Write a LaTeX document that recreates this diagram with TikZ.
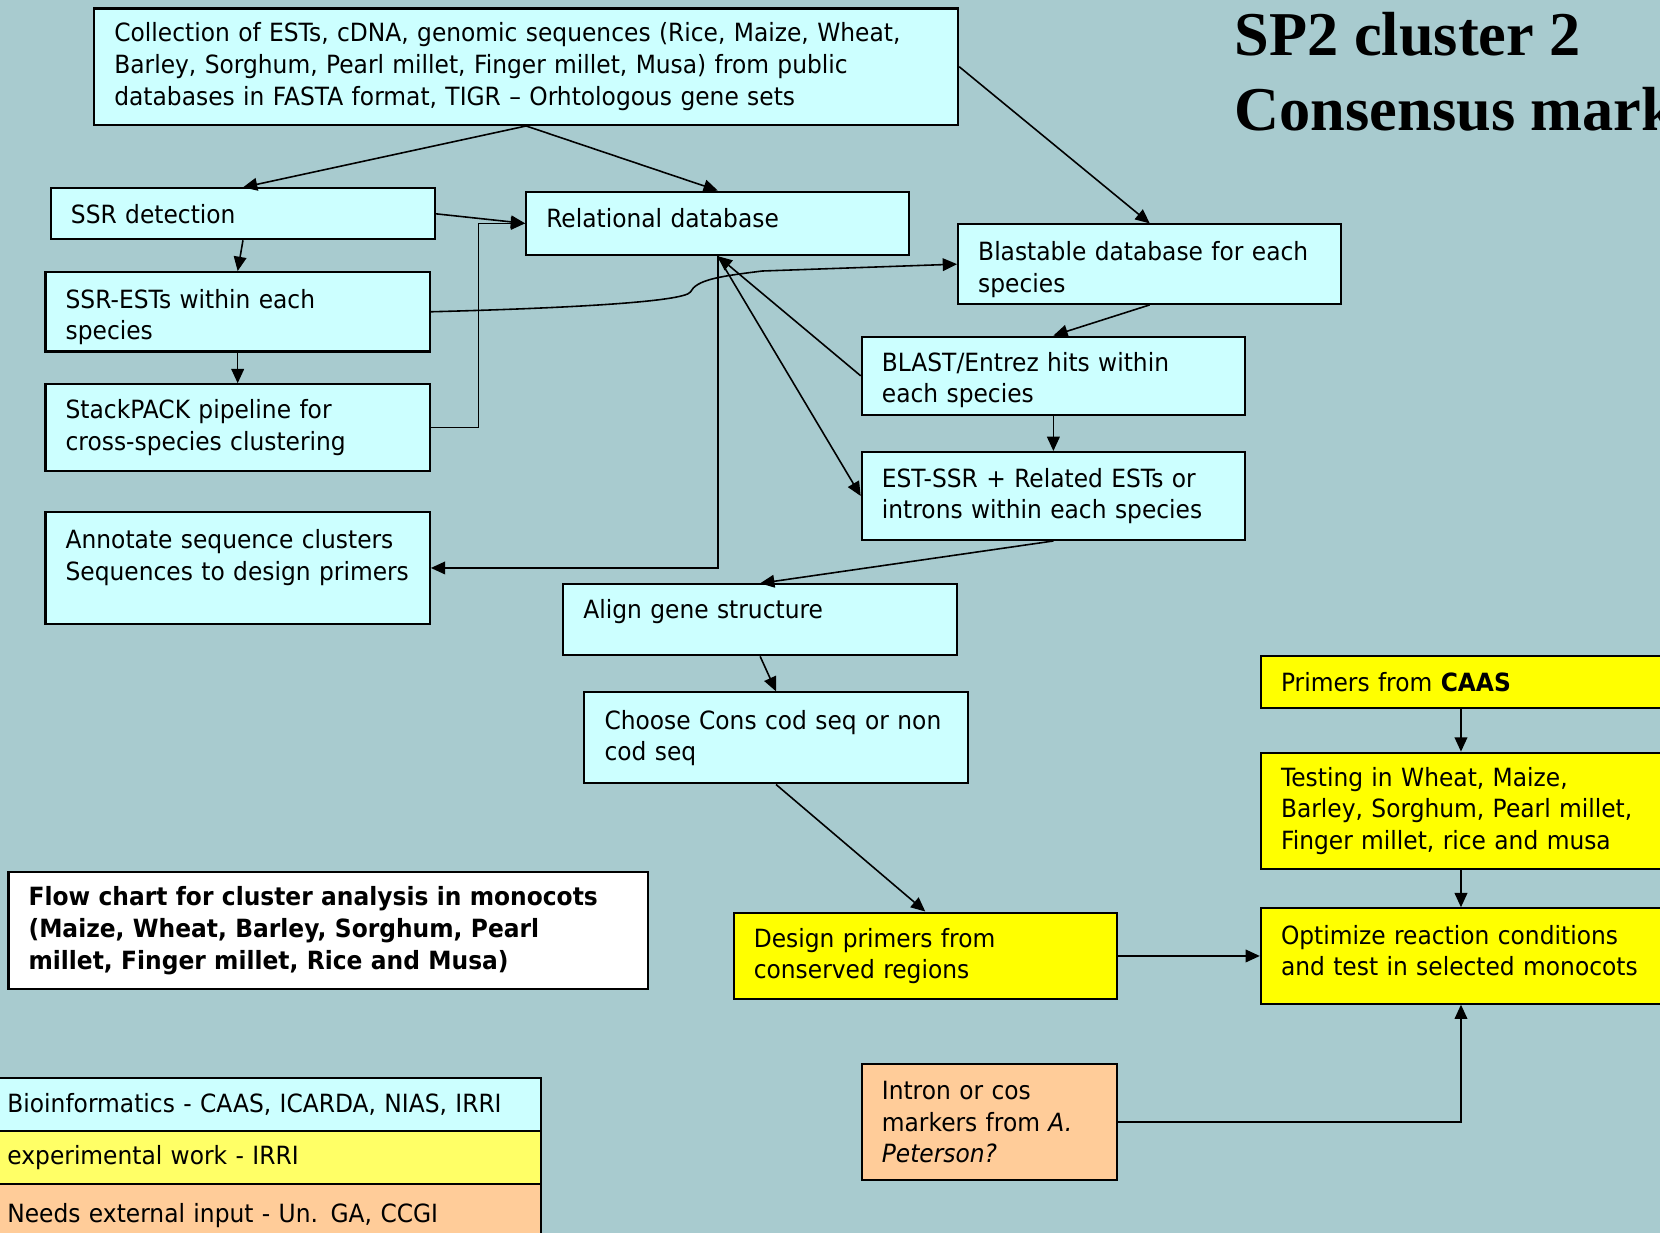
\documentclass[tikz,border=0pt]{standalone}
\usepackage{fontspec}
\setmainfont{DejaVu Sans}[FakeStretch=0.93]
\newfontfamily\titlefont{Liberation Serif}
\usepackage{xcolor}
\usetikzlibrary{arrows.meta}
\definecolor{bgedge}{RGB}{168,203,207}
\definecolor{bgmid}{RGB}{188,224,228}
\definecolor{bioinf}{RGB}{204,255,255}
\definecolor{expwork}{RGB}{255,255,0}
\definecolor{explight}{RGB}{255,255,102}
\definecolor{extinput}{RGB}{255,204,153}
\newcommand\boxfont{\fontsize{13.5}{17}\selectfont}
\tikzstyle{fc}=[draw,line width=.4mm,anchor=north west,align=left,inner xsep=3.8mm,inner ysep=0pt,font=\boxfont]
\tikzstyle{bio}=[fc,fill=bioinf]
\tikzstyle{exper}=[fc,fill=expwork]
\tikzstyle{ext}=[fc,fill=extinput]
\tikzstyle{title}=[anchor=base west,inner sep=0pt,font=\titlefont\bfseries\fontsize{33.5}{40}\selectfont]
\tikzstyle{arr}=[line width=.3mm,-{Triangle[length=2.7mm,width=2.4mm]}]

\begin{document}
\begin{tikzpicture}[x=.2mm,y=-.2mm]
	\useasboundingbox (0,0) rectangle (1568,1164);
	\clip (0,0) rectangle (1568,1164);
	\shade[top color=bgedge,middle color=bgmid,bottom color=bgedge] (0,0) rectangle (1568,1164);
	\node (sptitle) [title] at (1166,52) {SP2 cluster 2};
	\node (cmtitle) [title] at (1166,123) {Consensus markers};
	% bioinformatics part
	\node (coll) [bio,text width=155.6mm,minimum height=22mm] at (88,7) {Collection of ESTs, cDNA, genomic sequences (Rice, Maize, Wheat,\\Barley, Sorghum, Pearl millet, Finger millet, Musa) from public\\databases in FASTA format, TIGR -- Orhtologous gene sets};
	\node (ssr) [bio,text width=65mm,minimum height=9.6mm] at (47,177) {SSR detection};
	\node (reldb) [bio,text width=64.8mm,minimum height=12mm,text depth=2mm] at (496,180) {Relational database};
	\node (blastdb) [bio,text width=64.8mm,minimum height=15mm,text height=16pt] at (904,211) {Blastable database for each\\species};
	\node (ssrest) [bio,text width=65mm,minimum height=15mm,text height=16pt] at (42,256) {SSR-ESTs within each\\species};
	\node (stack) [bio,text width=65mm,minimum height=16.4mm] at (42,362) {StackPACK pipeline for\\cross-species clustering};
	\node (blast) [bio,text width=64.8mm,minimum height=14.8mm,text height=15pt] at (813,317) {BLAST/Entrez hits within\\each species};
	\node (estssr) [bio,text width=64.8mm,minimum height=16.6mm] at (813,426) {EST-SSR + Related ESTs or\\introns within each species};
	\node (annot) [bio,text width=65mm,minimum height=21mm,text depth=11mm] at (42,483) {Annotate sequence clusters\\Sequences to design primers};
	\node (align) [bio,text width=66.8mm,minimum height=13.4mm,text depth=4mm] at (531,551) {Align gene structure};
	\node (choose) [bio,text width=64.8mm,minimum height=17.2mm] at (551,653) {Choose Cons cod seq or non\\cod seq};
	% experimental part
	\node (caas) [exper,text width=76.4mm,minimum height=9.8mm] at (1190,619) {Primers from \textbf{CAAS}};
	\node (testing) [exper,text width=76.4mm,minimum height=22mm] at (1190,710) {Testing in Wheat, Maize,\\Barley, Sorghum, Pearl millet,\\Finger millet, rice and musa};
	\node (design) [exper,text width=64.8mm,minimum height=16.4mm] at (692,861) {Design primers from\\conserved regions};
	\node (optimize) [exper,text width=76.4mm,minimum height=18mm,text depth=8mm] at (1190,857) {Optimize reaction conditions\\and test in selected monocots};
	\node (intron) [ext,text width=40.6mm,minimum height=22mm] at (813,1004) {Intron or cos\\markers from \textit{A.}\\\textit{Peterson?}};
	\node (flow) [fc,fill=white,text width=113.2mm,minimum height=22mm,font=\boxfont\bfseries] at (7,823) {Flow chart for cluster analysis in monocots\\(Maize, Wheat, Barley, Sorghum, Pearl\\millet, Finger millet, Rice and Musa)};
	% legend
	\node (legbio) [bio,text width=97mm,minimum height=10mm] at (-13,1017) {Bioinformatics - CAAS, ICARDA, NIAS, IRRI};
	\node (legexp) [fc,fill=explight,text width=97mm,minimum height=10mm] at (-13,1067) {experimental work - IRRI};
	\node (legext) [ext,text width=97mm,minimum height=12mm] at (-13,1117) {Needs external input - Un. GA, CCGI};
	\coordinate (rcol) at (1380,0);
	\draw[arr] (coll.south) -- (ssr.north);
	\draw[arr] (coll.south) -- (reldb.north);
	\draw[arr] (coll.east) -- (blastdb.north);
	\draw[arr] (ssr.east) -- (reldb.west);
	\draw[arr] (ssr.south) -- (ssrest.north);
	\draw[arr] (ssrest.south) -- (stack.north);
	\draw[arr] (stack.east) -- ++(45,0) |- (reldb.west);
	\draw[arr] (ssrest.east) .. controls (540,291) and (645,285) .. (652,276) .. controls (658,264) and (680,261) .. (720,256) -- (blastdb.west);
	\draw[arr] (reldb.south) |- (annot.east);
	\draw[arr] (blast.west) -- (reldb.south);
	\draw[arr] (reldb.south) -- (estssr.west);
	\draw[arr] (blastdb.south) -- (blast.north);
	\draw[arr] (blast.south) -- (estssr.north);
	\draw[arr] (estssr.south) -- (align.north);
	\draw[arr] (align.south) -- (choose.north);
	\draw[arr] (choose.south) -- (design.north);
	\draw[arr] (caas.south -| rcol) -- (testing.north -| rcol);
	\draw[arr] (testing.south -| rcol) -- (optimize.north -| rcol);
	\draw[arr] (design.east) -- (optimize.west);
	\draw[arr] (intron.east) -| (optimize.south -| rcol);
\end{tikzpicture}
\end{document}
